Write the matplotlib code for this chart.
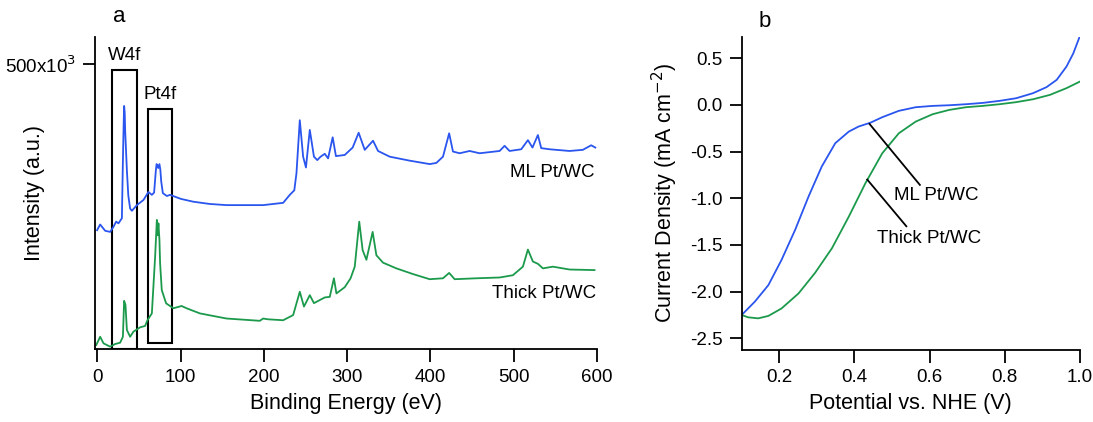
import numpy as np
import matplotlib.pyplot as plt
from matplotlib.patches import Rectangle

plt.rcParams['font.family'] = ['Liberation Sans', 'DejaVu Sans']

BLUE = '#2a55ee'
GREEN = '#1c9a4c'

# panel a: XPS survey, intensity in units of 1e3
ml_ev = [-0.5, 3.2, 9.2, 15.2, 19.2, 22.4, 25.2, 29.3, 30.5, 31.5, 32.0, 32.7, 33.2, 35.3, 37.0,
         39.2, 41.3, 47.3, 55.2, 61.2, 65.3, 68.0, 70.1, 71.0, 72.0, 73.0, 74.4, 75.5, 76.5,
         78.5, 83.3, 87.2, 100, 115, 135, 155, 175, 199, 223, 231, 236.4, 239, 243, 247,
         250.4, 255, 260, 264, 268, 273, 277, 282.5, 286.4, 297, 306.5, 313.7, 321, 331,
         337, 351, 375, 399, 407, 415, 422.4, 427, 435, 447, 459, 483, 489, 495, 509, 517,
         522.5, 529, 533, 543, 567, 583, 593, 598]
ml_int = [209, 219, 208, 206, 215, 224, 221, 230, 330, 400, 427, 415, 385, 314, 270,
          247, 243, 253, 262, 276, 271, 275, 314, 325, 323, 318, 325, 315, 295,
          274, 269, 271, 264, 259, 255, 253, 253, 253, 257, 271, 279, 309, 402, 338,
          319, 385, 338, 332, 338, 343, 335, 372, 339, 341, 354, 380, 350, 366,
          348, 338, 331, 325, 327, 338, 379, 347, 344, 348, 344, 348, 357, 348, 351, 367,
          354, 376, 353, 351, 348, 350, 358, 354]

thick_ev = [-1.5, 3.2, 7.2, 15.2, 21.2, 27.2, 30.5, 32.0, 33.6, 35.3, 39.2, 43.2, 51.2, 57.2,
            60.0, 65.3, 69.2, 71.3, 72.2, 73.2, 74.4, 75.2, 77.2, 82.4, 91.2, 101, 107, 123,
            155, 195, 199, 205, 223, 235, 243, 248, 255, 260, 273, 279, 284, 287, 297, 304,
            309, 314.4, 318.5, 323, 330.5, 335, 343, 359, 379, 399, 415, 422.4, 429, 455,
            483, 499, 511, 517, 523, 529, 535, 547, 567, 597]
thick_int = [7.5, 22, 10.5, 4.6, 9.3, 11.6, 22, 85, 78, 34, 22, 31, 38.6, 41,
             51, 63, 162, 227, 200, 221, 192, 151, 104, 80.7, 72, 76, 72, 63,
             54, 50, 54, 52.6, 51, 60, 101, 75, 95, 81, 91, 92, 124.6, 98, 109, 124.6,
             145, 224, 174, 157, 206, 165, 152, 142, 132, 123, 124.6, 134, 123, 124.6,
             126, 130, 145, 175, 154, 150, 142, 145, 140, 139]

# boxes around core levels: (left eV, right eV, bottom, top)
boxes = {'W4f': (17.3, 47.3, 0, 490), 'Pt4f': (60.5, 89.3, 10.5, 421.6)}

# panel b: polarisation curves
pot_ml = [0.1, 0.135, 0.171, 0.206, 0.242, 0.278, 0.313, 0.349, 0.385, 0.411, 0.443, 0.474,
          0.518, 0.563, 0.608, 0.652, 0.697, 0.741, 0.786, 0.83, 0.875, 0.911, 0.938, 0.964,
          0.982, 1.0]
cur_ml = [-2.25, -2.107, -1.93, -1.66, -1.34, -0.98, -0.66, -0.41, -0.286, -0.232, -0.19, -0.132,
          -0.064, -0.025, -0.011, -0.004, 0.007, 0.021, 0.043, 0.071, 0.125, 0.19, 0.268, 0.41,
          0.55, 0.74]
pot_thick = [0.1, 0.117, 0.144, 0.171, 0.206, 0.251, 0.295, 0.34, 0.385, 0.429, 0.474, 0.518,
             0.563, 0.608, 0.652, 0.697, 0.741, 0.786, 0.83, 0.875, 0.92, 0.964, 1.0]
cur_thick = [-2.25, -2.275, -2.286, -2.26, -2.18, -2.02, -1.80, -1.536, -1.196, -0.84, -0.518,
             -0.304, -0.179, -0.1, -0.054, -0.025, -0.011, 0.007, 0.029, 0.06, 0.107, 0.179, 0.25]


def style_axis(ax):
    for s in ['top', 'right']:
        ax.spines[s].set_visible(False)
    for s in ['left', 'bottom']:
        ax.spines[s].set_linewidth(1.3)
    ax.tick_params(direction='out', length=9, width=1.3, labelsize=13.5, pad=5)


fig = plt.figure(figsize=(10.93, 4.22), dpi=100)

ax1 = fig.add_axes([95 / 1093, 1 - 349.3 / 422, 502 / 1093, 312.3 / 422])
ax1.plot(ml_ev, ml_int, color=BLUE, lw=1.3)
ax1.plot(thick_ev, thick_int, color=GREEN, lw=1.3)
for name, (x0, x1, y0, y1) in boxes.items():
    ax1.add_patch(Rectangle((x0, y0), x1 - x0, y1 - y0, fill=False, ec='black', lw=1.5))
    ax1.text((x0 + x1) / 2, y1 + 10, name, ha='center', va='bottom', fontsize=13.5)
ax1.set_xlim(-3, 600)
ax1.set_ylim(0, 548)
ax1.set_xticks([0, 100, 200, 300, 400, 500, 600])
ax1.set_yticks([500])
ax1.set_yticklabels(['500x10$^3$'])
style_axis(ax1)
ax1.set_xlabel('Binding Energy (eV)', fontsize=15.5, labelpad=5)
ax1.set_ylabel('Intensity (a.u.)', fontsize=15.5, labelpad=-29)
ax1.text(495, 310, 'ML Pt/WC', fontsize=13.5, va='center')
ax1.text(474, 98, 'Thick Pt/WC', fontsize=13.5, va='center')
ax1.text(26, 565, 'a', fontsize=16, ha='center', va='bottom', clip_on=False)

ax2 = fig.add_axes([741.7 / 1093, 1 - 350 / 422, 338.3 / 1093, 313.3 / 422])
ax2.plot(pot_ml, cur_ml, color=BLUE, lw=1.3)
ax2.plot(pot_thick, cur_thick, color=GREEN, lw=1.3)
ax2.plot([0.44, 0.574], [-0.204, -0.857], color='black', lw=1.3)
ax2.plot([0.434, 0.538], [-0.80, -1.30], color='black', lw=1.3)
ax2.text(0.505, -0.975, 'ML Pt/WC', fontsize=13.5, va='center')
ax2.text(0.46, -1.43, 'Thick Pt/WC', fontsize=13.5, va='center')
ax2.set_xlim(0.1, 1.0)
ax2.set_ylim(-2.625, 0.73)
ax2.set_xticks([0.2, 0.4, 0.6, 0.8, 1.0])
ax2.set_yticks([0.5, 0.0, -0.5, -1.0, -1.5, -2.0, -2.5])
ax2.xaxis.set_major_formatter(plt.FormatStrFormatter('%.1f'))
ax2.yaxis.set_major_formatter(plt.FormatStrFormatter('%.1f'))
style_axis(ax2)
ax2.set_xlabel('Potential vs. NHE (V)', fontsize=15.5, labelpad=5)
ax2.set_ylabel('Current Density (mA cm$^{-2}$)', fontsize=15.5, labelpad=7)
ax2.text(0.16, 0.78, 'b', fontsize=16, ha='center', va='bottom', clip_on=False)

fig.savefig('out.png', dpi=100)
